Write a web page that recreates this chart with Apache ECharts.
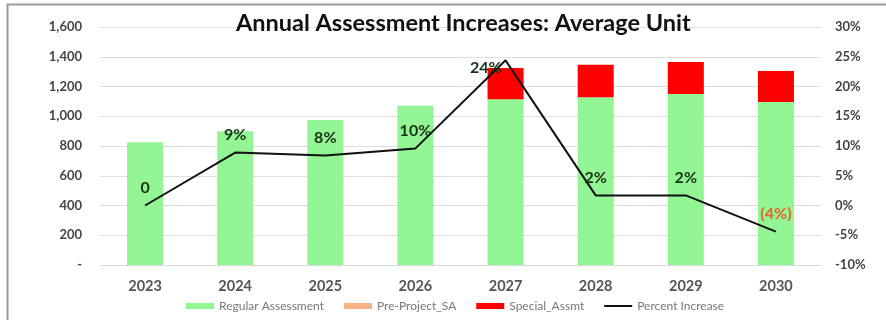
<!DOCTYPE html>
<html>
<head>
<meta charset="utf-8">
<script src="https://cdn.jsdelivr.net/npm/echarts@6/dist/echarts.min.js"></script>
<style>
html,body{margin:0;padding:0;background:#fff;}
#c{width:886px;height:320px;}
</style>
</head>
<body>
<div id="c"></div>
<script>
const categories = ['2023','2024','2025','2026','2027','2028','2029','2030'];
const regularAssessment = [825, 900, 975, 1070, 1115, 1128, 1150, 1095];
const preProjectSA = [0, 0, 0, 0, 0, 0, 0, 0];
const specialAssmt = [0, 0, 0, 0, 210, 218, 215, 210];
const percentIncrease = [0, 8.9, 8.4, 9.6, 24.4, 1.7, 1.7, -4.4];
const percentLabels = ['0', '9%', '8%', '10%', '24%', '2%', '2%', '(4%)'];
const leftTicks = {min: 0, max: 1600, interval: 200};
const rightTicks = {min: -10, max: 30, interval: 5};

const FONT = 'Lato';
const chart = echarts.init(document.getElementById('c'));

const labelData = percentIncrease.map((v, i) => {
  const d = {value: [i, v]};
  if (i === 4) d.label = {position: 'left', distance: 4, offset: [0, 8]};
  if (i === 7) d.label = {color: '#E8622A'};
  return d;
});

chart.setOption({
  animation: false,
  textStyle: {fontFamily: FONT},
  graphic: [{
    type: 'rect', left: 5, top: 2, shape: {width: 900, height: 340},
    style: {fill: 'none', stroke: '#9a9a9a', lineWidth: 2}, silent: true
  }],
  title: {
    text: 'Annual Assessment Increases: Average Unit',
    left: 231, top: 6,
    textStyle: {fontFamily: FONT, fontSize: 23.5, fontWeight: 'bold', color: '#111'}
  },
  grid: {left: 100, right: 65, top: 27, bottom: 55},
  legend: {
    left: 181, top: 295, itemGap: 20, itemWidth: 28, itemHeight: 6,
    textStyle: {fontFamily: FONT, fontSize: 12, color: '#777'},
    data: [
      {name: 'Regular Assessment', icon: 'rect'},
      {name: 'Pre-Project_SA', icon: 'rect'},
      {name: 'Special_Assmt', icon: 'rect'},
      {name: 'Percent Increase', icon: 'path://M0,0H140V10H0Z', itemStyle: {color: '#111'}}
    ]
  },
  xAxis: {
    type: 'category', data: categories,
    axisLine: {lineStyle: {color: '#d9d9d9'}},
    axisTick: {show: false},
    axisLabel: {fontFamily: FONT, fontSize: 14.5, fontWeight: 'bold', color: '#555', margin: 14}
  },
  yAxis: [{
    type: 'value', min: leftTicks.min, max: leftTicks.max, interval: leftTicks.interval,
    axisLine: {show: false}, axisTick: {show: false},
    splitLine: {lineStyle: {color: '#dedede'}},
    axisLabel: {
      fontFamily: FONT, fontSize: 13, fontWeight: 'bold', color: '#444', margin: 18,
      formatter: v => v === 0 ? '-' : v.toLocaleString('en-US')
    }
  }, {
    type: 'value', min: rightTicks.min, max: rightTicks.max, interval: rightTicks.interval,
    axisLine: {show: false}, axisTick: {show: false}, splitLine: {show: false},
    axisLabel: {
      fontFamily: FONT, fontSize: 13, fontWeight: 'bold', color: '#444', margin: 14,
      formatter: v => v + '%'
    }
  }],
  series: [{
    name: 'Regular Assessment', type: 'bar', stack: 'a', data: regularAssessment,
    barWidth: '40%', itemStyle: {color: '#93F593'}
  }, {
    name: 'Pre-Project_SA', type: 'bar', stack: 'a', data: preProjectSA,
    itemStyle: {color: '#F4B183'}
  }, {
    name: 'Special_Assmt', type: 'bar', stack: 'a', data: specialAssmt,
    itemStyle: {color: '#FF0000'}
  }, {
    name: 'Percent Increase', type: 'line', yAxisIndex: 1, data: percentIncrease,
    symbol: 'none', z: 5,
    lineStyle: {color: '#111', width: 2},
    itemStyle: {color: '#111'}
  }, {
    name: 'labels', type: 'scatter', yAxisIndex: 1, data: labelData,
    symbolSize: 0, itemStyle: {color: '#1c2e1c', opacity: 1}, z: 6, silent: true,
    label: {
      show: true, position: 'top', distance: 10,
      fontFamily: FONT, fontSize: 16, fontWeight: 'bold', color: '#173017',
      textBorderWidth: 0,
      formatter: p => percentLabels[p.dataIndex]
    }
  }]
});
</script>
</body>
</html>
